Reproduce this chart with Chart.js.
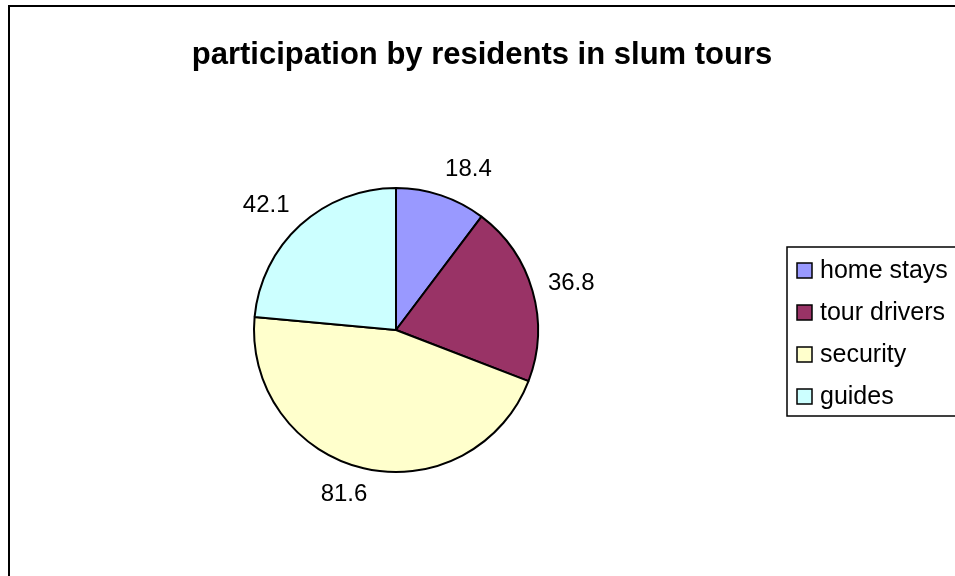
<!DOCTYPE html>
<html>
<head>
<meta charset="utf-8">
<script src="https://cdn.jsdelivr.net/npm/chart.js@4.4.0/dist/chart.umd.min.js"></script>
<style>
  html, body { margin: 0; padding: 0; background: #fff; }
  canvas { display: block; }
</style>
</head>
<body>
<canvas id="myChart" width="955" height="576"></canvas>
<script>
// data
const categories = ["home stays", "tour drivers", "security", "guides"];
const values = [18.4, 36.8, 81.6, 42.1];
const sliceColors = ["#9999FF", "#993366", "#FFFFCC", "#CCFFFF"];
const chartTitle = "participation by residents in slum tours";

// frame, title, value labels and legend, drawn Excel style
const excelLook = {
    id: "excelLook",
    beforeDraw(chart) {
        const ctx = chart.ctx;
        ctx.save();
        ctx.fillStyle = "#fff";
        ctx.fillRect(0, 0, chart.width, chart.height);
        ctx.restore();
    },
    afterDraw(chart) {
        const ctx = chart.ctx;
        ctx.save();
        // outer chart border (runs off the right and bottom edge)
        ctx.strokeStyle = "#000";
        ctx.lineWidth = 2;
        ctx.strokeRect(9, 6, 1000, 1000);

        // title
        ctx.fillStyle = "#000";
        ctx.font = "bold 31px 'Liberation Sans', Arial, sans-serif";
        ctx.textAlign = "center";
        ctx.textBaseline = "alphabetic";
        ctx.fillText(chartTitle, 482, 64);

        // value labels outside the slices
        const meta = chart.getDatasetMeta(0);
        ctx.font = "24px 'Liberation Sans', Arial, sans-serif";
        ctx.textAlign = "center";
        ctx.textBaseline = "middle";
        meta.data.forEach((arc, i) => {
            const p = arc.getProps(["x", "y", "startAngle", "endAngle", "outerRadius"], true);
            const mid = (p.startAngle + p.endAngle) / 2;
            const ux = Math.cos(mid), uy = Math.sin(mid);
            const txt = String(chart.data.datasets[0].data[i]);
            const hw = ctx.measureText(txt).width / 2;
            const d = p.outerRadius + 16;
            const lx = p.x + d * ux + hw * Math.sign(ux) * Math.min(1, 3 * Math.abs(ux));
            const ly = p.y + d * uy + 11 * uy;
            ctx.fillText(txt, lx, ly);
        });

        // legend box
        const bx = 787, by = 247, rowH = 42;
        ctx.lineWidth = 1.5;
        ctx.strokeRect(bx, by, 400, 169);
        ctx.font = "25px 'Liberation Sans', Arial, sans-serif";
        ctx.textAlign = "left";
        ctx.textBaseline = "middle";
        chart.data.labels.forEach((lab, i) => {
            const cy = by + 23.5 + i * rowH;
            ctx.fillStyle = sliceColors[i];
            ctx.fillRect(bx + 10, cy - 7.5, 15, 15);
            ctx.strokeStyle = "#000";
            ctx.lineWidth = 1.5;
            ctx.strokeRect(bx + 10, cy - 7.5, 15, 15);
            ctx.fillStyle = "#000";
            ctx.fillText(lab, bx + 33, cy + 1);
        });
        ctx.restore();
    }
};

const ctx = document.getElementById("myChart").getContext("2d");
new Chart(ctx, {
    type: "pie",
    data: {
        labels: categories,
        datasets: [{
            data: values,
            backgroundColor: sliceColors,
            borderColor: "#000",
            borderWidth: 2
        }]
    },
    options: {
        responsive: false,
        animation: false,
        layout: {
            padding: { left: 253, right: 416, top: 187, bottom: 103 }
        },
        plugins: {
            legend: { display: false },
            title: { display: false },
            tooltip: { enabled: false }
        }
    },
    plugins: [excelLook]
});
</script>
</body>
</html>
